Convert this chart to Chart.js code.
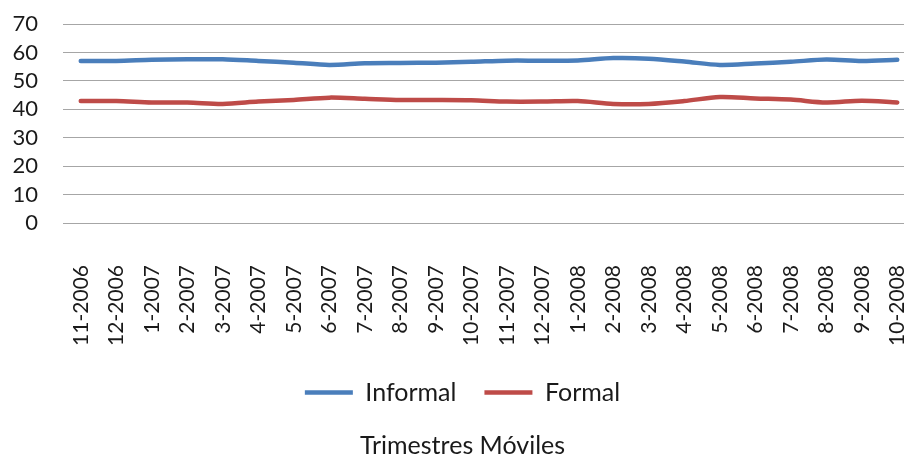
<!DOCTYPE html>
<html>
<head>
<meta charset="utf-8">
<script src="https://cdn.jsdelivr.net/npm/chart.js@4/dist/chart.umd.min.js"></script>
<style>
  html, body { margin: 0; padding: 0; background: #fff; overflow: hidden; }
  canvas { display: block; }
</style>
</head>
<body>
<canvas id="c" width="920" height="458"></canvas>
<script>
// Moving quarters (month-year of the last month in each window)
const periods = [
  '11-2006', '12-2006', '1-2007', '2-2007', '3-2007', '4-2007', '5-2007', '6-2007',
  '7-2007', '8-2007', '9-2007', '10-2007', '11-2007', '12-2007', '1-2008', '2-2008',
  '3-2008', '4-2008', '5-2008', '6-2008', '7-2008', '8-2008', '9-2008', '10-2008'
];

// Share of employment (%)
const informal = [
  57.0, 57.0, 57.4, 57.6, 57.6, 57.0, 56.4, 55.6, 56.2, 56.3, 56.4, 56.7,
  57.1, 57.1, 57.2, 58.0, 57.8, 56.8, 55.6, 56.1, 56.7, 57.5, 57.0, 57.4
];
const formal = [
  42.9, 42.9, 42.4, 42.4, 41.9, 42.7, 43.3, 44.1, 43.7, 43.3, 43.3, 43.2,
  42.7, 42.7, 42.9, 41.9, 41.9, 42.9, 44.3, 43.8, 43.4, 42.4, 43.0, 42.4
];

const yTicks = [0, 10, 20, 30, 40, 50, 60, 70];

const FONT = 'Lato, "Open Sans", sans-serif';
const TEXT = '#1a1a1a';

new Chart(document.getElementById('c'), {
  type: 'line',
  data: {
    labels: periods,
    datasets: [
      {
        label: 'Informal',
        data: informal,
        borderColor: '#4a7ebb',
        backgroundColor: '#4a7ebb',
        borderWidth: 4.5,
        borderCapStyle: 'round',
        borderJoinStyle: 'round',
        pointRadius: 0,
        pointStyle: 'line',
        tension: 0.3
      },
      {
        label: 'Formal',
        data: formal,
        borderColor: '#be4b48',
        backgroundColor: '#be4b48',
        borderWidth: 4.5,
        borderCapStyle: 'round',
        borderJoinStyle: 'round',
        pointRadius: 0,
        pointStyle: 'line',
        tension: 0.3
      }
    ]
  },
  options: {
    responsive: false,
    animation: false,
    layout: { padding: { top: 24, left: 10, right: 5, bottom: 0 } },
    scales: {
      x: {
        offset: true,
        grid: { display: false, drawTicks: false },
        border: { display: false },
        ticks: {
          autoSkip: false,
          minRotation: 90,
          maxRotation: 90,
          padding: 42,
          color: TEXT,
          font: { family: FONT, size: 21 }
        },
        afterFit: (s) => { s.paddingLeft = 0; s.paddingRight = 0; s.height = 129; }
      },
      y: {
        min: 0,
        max: 70,
        afterBuildTicks: (axis) => { axis.ticks = yTicks.map(v => ({ value: v })); },
        grid: { color: '#a6a6a6', lineWidth: 1, drawTicks: false },
        border: { display: false },
        ticks: {
          autoSkip: false,
          padding: 25,
          color: TEXT,
          font: { family: FONT, size: 22 }
        },
        afterFit: (s) => { s.width = 53; s.paddingTop = 0; s.paddingBottom = 0; }
      }
    },
    plugins: {
      legend: {
        position: 'bottom',
        labels: {
          usePointStyle: true,
          pointStyleWidth: 48,
          boxHeight: 8,
          padding: 28,
          color: TEXT,
          font: { family: FONT, size: 25 }
        }
      },
      title: {
        display: true,
        position: 'bottom',
        text: 'Trimestres Móviles',
        color: TEXT,
        padding: { top: 18, bottom: 0 },
        font: { family: FONT, size: 25, weight: 'normal', lineHeight: 1 }
      },
      tooltip: { enabled: false }
    }
  }
});
</script>
</body>
</html>
